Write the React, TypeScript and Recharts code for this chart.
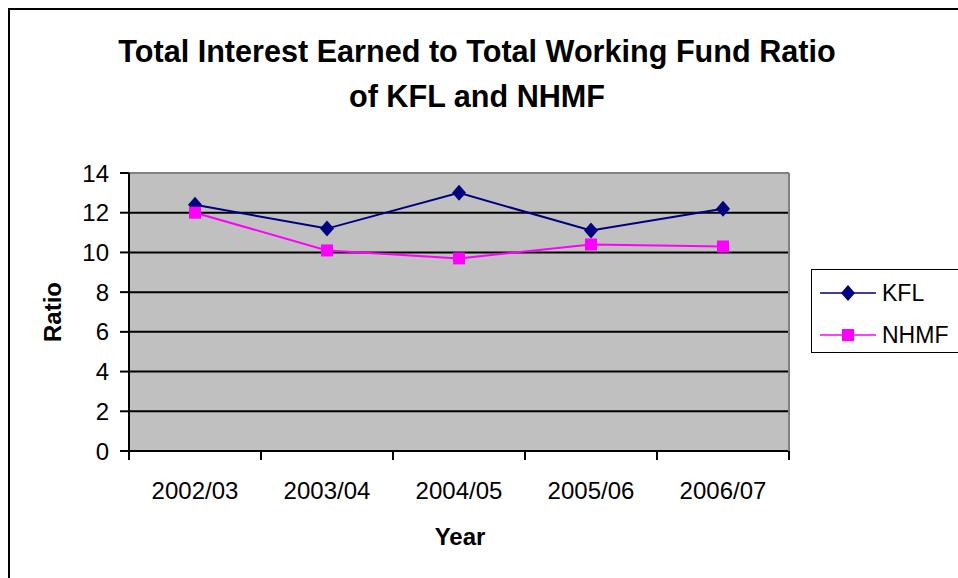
import { LineChart, Line, XAxis, YAxis, CartesianGrid } from "recharts";

const years = ["2002/03", "2003/04", "2004/05", "2005/06", "2006/07"];
const kfl = [12.4, 11.2, 13.0, 11.1, 12.2];
const nhmf = [12.0, 10.1, 9.7, 10.4, 10.3];
const yTicks = [0, 2, 4, 6, 8, 10, 12, 14];
const bandTicks = [0, 1, 2, 3, 4, 5];

const FONT = "'Liberation Sans', Arial, sans-serif";
const NAVY = "#000080";
const PINK = "#FF00FF";

const data = years.map((year, i) => ({ year, KFL: kfl[i], NHMF: nhmf[i] }));

function Diamond({ cx, cy, color }: { cx: number; cy: number; color: string }) {
  return <path d={`M${cx},${cy - 8}L${cx + 7},${cy}L${cx},${cy + 8}L${cx - 7},${cy}Z`} fill={color} />;
}

function Square({ cx, cy, color }: { cx: number; cy: number; color: string }) {
  return <rect x={cx - 6} y={cy - 6} width={12} height={12} fill={color} />;
}

// tick marks only, no labels
const NoLabel = () => <g />;

function LegendBox() {
  return (
    <div
      style={{
        position: "absolute",
        left: 811,
        top: 269,
        width: 170,
        height: 84,
        boxSizing: "border-box",
        border: "1.5px solid #000",
        background: "#fff",
      }}
    >
      <svg width={168} height={81} style={{ display: "block" }}>
        <line x1={8} x2={64} y1={23} y2={23} stroke={NAVY} strokeWidth={1.5} />
        <Diamond cx={36} cy={23} color={NAVY} />
        <text x={70} y={31} fontSize={23} fontFamily={FONT} fill="#000">
          KFL
        </text>
        <line x1={8} x2={64} y1={65} y2={65} stroke={PINK} strokeWidth={1.5} />
        <Square cx={36} cy={65} color={PINK} />
        <text x={70} y={73} fontSize={23} fontFamily={FONT} fill="#000">
          NHMF
        </text>
      </svg>
    </div>
  );
}

export default function App() {
  return (
    <div style={{ position: "absolute", left: 0, top: 0, width: 958, height: 578, background: "#fff", overflow: "hidden" }}>
      <LineChart width={958} height={578} data={data} margin={{ top: 172, right: 168, bottom: 66, left: 69 }}>
        <CartesianGrid
          xAxisId="cat"
          vertical={false}
          stroke="#000"
          strokeWidth={2}
          fill="#C0C0C0"
          fillOpacity={1}
          strokeOpacity={1}
        />
        {/* band-boundary tick marks: numeric axis over the 5 category slots */}
        <XAxis
          xAxisId="band"
          dataKey="KFL"
          type="number"
          domain={[0, years.length]}
          allowDataOverflow
          ticks={bandTicks}
          interval={0}
          tick={NoLabel}
          height={1}
          tickSize={9}
          axisLine={{ stroke: "#000", strokeWidth: 2 }}
          tickLine={{ stroke: "#000", strokeWidth: 2 }}
        />
        <XAxis
          xAxisId="cat"
          dataKey="year"
          height={60}
          padding={{ left: 66, right: 66 }}
          axisLine={false}
          tickLine={false}
          tickSize={0}
          tickMargin={30}
          interval={0}
          tick={{ fill: "#000", fontSize: 24, fontFamily: FONT }}
        />
        <XAxis
          xAxisId="top"
          orientation="top"
          type="number"
          domain={[0, 5]}
          height={1}
          tick={false}
          tickLine={false}
          axisLine={{ stroke: "#808080", strokeWidth: 2 }}
        />
        <YAxis
          domain={[0, 14]}
          ticks={yTicks}
          width={60}
          tickSize={9}
          tickMargin={11}
          interval={0}
          axisLine={{ stroke: "#000", strokeWidth: 2 }}
          tickLine={{ stroke: "#000", strokeWidth: 2 }}
          tick={{ fill: "#000", fontSize: 24, fontFamily: FONT }}
        />
        <YAxis
          yAxisId="r"
          orientation="right"
          domain={[0, 14]}
          width={1}
          tick={false}
          tickLine={false}
          axisLine={{ stroke: "#808080", strokeWidth: 2 }}
        />
        <Line
          xAxisId="cat"
          dataKey="KFL"
          stroke={NAVY}
          strokeWidth={2}
          isAnimationActive={false}
          dot={(p: any) => <Diamond key={`k${p.index}`} cx={p.cx} cy={p.cy} color={NAVY} />}
        />
        <Line
          xAxisId="cat"
          dataKey="NHMF"
          stroke={PINK}
          strokeWidth={2}
          isAnimationActive={false}
          dot={(p: any) => <Square key={`n${p.index}`} cx={p.cx} cy={p.cy} color={PINK} />}
        />
      </LineChart>
      <LegendBox />
      <svg
        width={958}
        height={578}
        style={{ position: "absolute", left: 0, top: 0, pointerEvents: "none" }}
      >
        <rect x={9} y={9} width={1000} height={1000} fill="none" stroke="#000" strokeWidth={2} />
        <text x={477} y={62} textAnchor="middle" fontSize={30.6} fontWeight="bold" fontFamily={FONT}>
          Total Interest Earned to Total Working Fund Ratio
        </text>
        <text x={477} y={107} textAnchor="middle" fontSize={30.6} fontWeight="bold" fontFamily={FONT}>
          of KFL and NHMF
        </text>
        <text x={460} y={545} textAnchor="middle" fontSize={24} fontWeight="bold" fontFamily={FONT}>
          Year
        </text>
        <text
          x={61}
          y={312}
          textAnchor="middle"
          fontSize={24}
          fontWeight="bold"
          fontFamily={FONT}
          transform="rotate(-90 61 312)"
        >
          Ratio
        </text>
      </svg>
    </div>
  );
}
